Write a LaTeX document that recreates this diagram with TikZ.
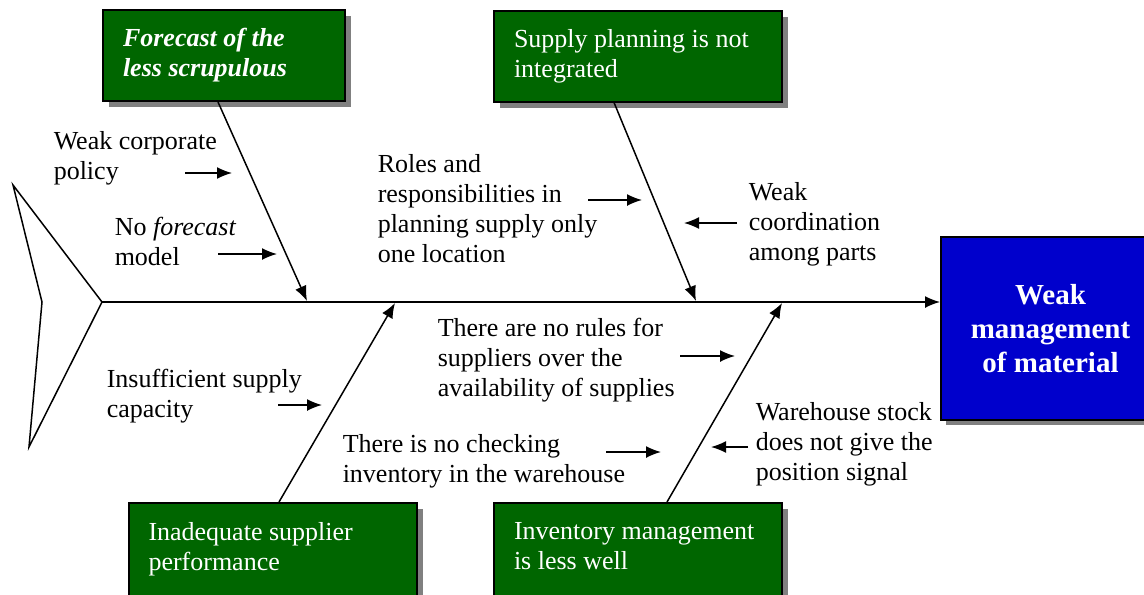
\documentclass[tikz,border=0pt]{standalone}
\usepackage{fontspec}
\setmainfont{Liberation Serif}
\usetikzlibrary{arrows.meta,shadows}

\definecolor{bonegreen}{RGB}{0,102,0}
\definecolor{headblue}{RGB}{0,0,204}

\begin{document}
\begin{tikzpicture}[x=0.5pt,y=-0.5pt,->,>={Latex[length=7.5pt,width=6pt]},line width=0.75pt]
  \tikzstyle{every node}=[font=\fontsize{13}{15}\selectfont]
  \tikzstyle{cause}=[draw=black,line width=1pt,fill=bonegreen,text=white,align=flush left,
    inner xsep=10pt,text width=124pt,minimum height=45.5pt,
    drop shadow={shadow xshift=3pt,shadow yshift=-3pt,fill=gray,opacity=1}]
  \tikzstyle{low cause}=[cause,minimum height=0pt,anchor=north,inner ysep=9.5pt]
  \tikzstyle{note}=[inner sep=0pt,align=left,anchor=west]
  \tikzstyle{effect}=[draw=black,line width=1pt,fill=headblue,text=white,align=center,
    minimum width=109.5pt,minimum height=91.5pt,
    font=\fontsize{14.5}{17}\selectfont\bfseries,
    drop shadow={shadow xshift=2.5pt,shadow yshift=-2.5pt,fill=gray,opacity=1}]

  \useasboundingbox (0,0) rectangle (1144,594);

  % head and tail
  \node[effect] (E) at (1050.5,328.5) {Weak\\management\\of material};
  \coordinate (head) at (102,302);
  \draw[-] (head) -- (13,185) -- (42,302) -- (29,447) -- cycle;
  \draw (head) -- (head -| E.west);

  % main causes
  \node[cause,text width=101pt,font=\fontsize{13}{15}\selectfont\bfseries\itshape] (F) at (224,55.5) {Forecast of the\\less scrupulous};
  \node[cause] (S) at (638,56) {Supply planning is not\\integrated};
  \node[low cause] (P) at (272.5,502) {Inadequate supplier\\performance\rule[-30pt]{0pt}{0pt}};
  \node[low cause] (I) at (638,502) {Inventory management\\is less well\rule[-30pt]{0pt}{0pt}};

  \coordinate (t1) at (307,301);
  \coordinate (t2) at (696,301);
  \coordinate (t3) at (395,303);
  \coordinate (t4) at (782,303);
  \draw ([xshift=-3pt]F.south) -- (t1);
  \draw ([xshift=-12pt]S.south) -- (t2);
  \draw ([xshift=3.25pt]P.north) -- (t3);
  \draw ([xshift=14.5pt]I.north) -- (t4);

  % sub causes
  \node[note] (policy) at (53,158) {Weak corporate\\policy};
  \node[note] (model) at (114,241) {No \emph{forecast}\\model};
  \node[note] (roles) at (377,209) {Roles and\\responsibilities in\\planning supply only\\one location};
  \node[note] (coord) at (748,224) {Weak\\coordination\\among parts};
  \node[note] (rules) at (437,360) {There are no rules for\\suppliers over the\\availability of supplies};
  \node[note] (capacity) at (106,396) {Insufficient supply\\capacity};
  \node[note] (check) at (342,461) {There is no checking\\inventory in the warehouse};
  \node[note] (stock) at (755,444) {Warehouse stock\\does not give the\\position signal};

  \coordinate (a1) at (185,173); \coordinate (b1) at (232,173);
  \coordinate (a2) at (218,254); \coordinate (b2) at (277,254);
  \coordinate (a3) at (588,200); \coordinate (b3) at (642,200);
  \coordinate (a4) at (737,223); \coordinate (b4) at (684,223);
  \coordinate (a5) at (680,356); \coordinate (b5) at (735,356);
  \coordinate (a6) at (278,405); \coordinate (b6) at (322,405);
  \coordinate (a7) at (606,452); \coordinate (b7) at (661,452);
  \coordinate (a8) at (748,447); \coordinate (b8) at (711,447);
  \foreach \i in {1,...,8}
    \draw (a\i) -- (b\i);
\end{tikzpicture}
\end{document}
